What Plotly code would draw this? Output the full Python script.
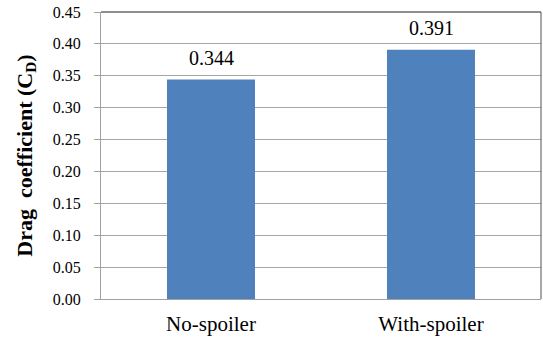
import plotly.graph_objects as go

categories = ["No-spoiler", "With-spoiler"]
drag_cd = [0.344, 0.391]
y_ticks = [0.00, 0.05, 0.10, 0.15, 0.20, 0.25, 0.30, 0.35, 0.40, 0.45]

serif = "Times New Roman, Liberation Serif, serif"

fig = go.Figure(
    go.Bar(
        x=categories,
        y=drag_cd,
        width=0.4,
        marker=dict(color="#4F81BD", line=dict(width=0)),
        hoverinfo="x+y",
    )
)

# value labels sitting a little above each bar
for cat, val in zip(categories, drag_cd):
    fig.add_annotation(
        x=cat, y=val, text=f"{val:.3f}",
        showarrow=False, yanchor="bottom", yshift=9,
        font=dict(family=serif, size=20, color="#000000"),
    )

fig.update_layout(
    width=543,
    height=340,
    margin=dict(l=101, r=2, t=12, b=41),
    paper_bgcolor="white",
    plot_bgcolor="white",
    showlegend=False,
    xaxis=dict(
        showgrid=False,
        showline=True,
        linecolor="#A0A0A0",
        linewidth=1,
        ticks="",
        ticklabelstandoff=6,
        tickfont=dict(family=serif, size=21, color="#000000"),
    ),
    yaxis=dict(
        range=[0, 0.45],
        tickvals=y_ticks,
        ticktext=[f"{v:.2f}" for v in y_ticks],
        showgrid=True,
        gridcolor="#A6A6A6",
        gridwidth=1,
        showline=True,
        linecolor="#A0A0A0",
        linewidth=1,
        ticks="outside",
        ticklen=6,
        tickcolor="#A0A0A0",
        ticklabelstandoff=10,
        tickfont=dict(family=serif, size=16, color="#000000"),
        title=dict(
            text="<b>Drag  coefficient (C<sub>D</sub>)</b>",
            font=dict(family=serif, size=22, color="#000000"),
            standoff=14,
        ),
        zeroline=False,
    ),
)

# dark frame along the top and right of the plotting area
fig.add_shape(type="line", xref="paper", yref="paper", x0=0, x1=1, y0=1, y1=1,
              line=dict(color="#202020", width=1))
fig.add_shape(type="line", xref="paper", yref="paper", x0=1, x1=1, y0=0, y1=1,
              line=dict(color="#505050", width=1))

fig.write_html("out.html")
